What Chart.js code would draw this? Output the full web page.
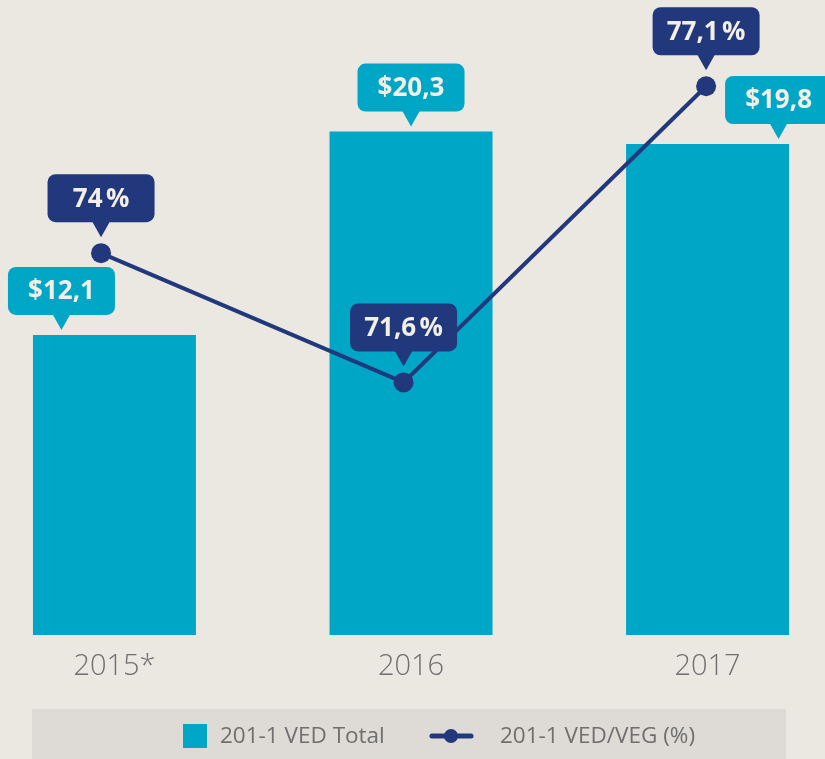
<!DOCTYPE html>
<html>
<head>
<meta charset="utf-8">
<script src="https://cdn.jsdelivr.net/npm/chart.js@4.4.0/dist/chart.umd.min.js"></script>
<style>
  html, body { margin: 0; padding: 0; background: #ebe7e1; }
  #wrap { width: 825px; height: 759px; }
</style>
</head>
<body>
<div id="wrap"><canvas id="chart"></canvas></div>
<script>
const years = ['2015*', '2016', '2017'];
const vedTotal = [12.1, 20.3, 19.8];
const vedRatio = [74, 71.6, 77.1];
const seriesNames = ['201-1 VED Total', '201-1 VED/VEG (%)'];

const cyan = '#00a6c6';
const navy = '#22387c';
const textLight = '#f4efe5';

// the bar callouts sit off-centre so they don't run into the line
const barTagShift = [-53, 0, 71];

let fmt = (v) => Number.isInteger(v) ? String(v) : v.toFixed(1).replace('.', ',');

function bubble(ctx, cx, tipY, text, color) {
  const w = 107, h = 48, r = 8, tail = 15;
  const bottom = tipY - tail, top = bottom - h;
  ctx.fillStyle = color;
  ctx.beginPath();
  ctx.roundRect(cx - w / 2, top, w, h, r);
  ctx.fill();
  ctx.beginPath();
  ctx.moveTo(cx - 9, bottom - 1);
  ctx.lineTo(cx + 9, bottom - 1);
  ctx.lineTo(cx, tipY);
  ctx.closePath();
  ctx.fill();
  ctx.fillStyle = textLight;
  ctx.font = '700 26px "Open Sans"';
  ctx.textAlign = 'center';
  ctx.textBaseline = 'middle';
  ctx.fillText(text, cx, top + h / 2 + 1);
}

const background = {
  id: 'background',
  beforeDraw(chart) {
    const ctx = chart.ctx;
    ctx.save();
    ctx.fillStyle = '#ebe7e1';
    ctx.fillRect(0, 0, chart.width, chart.height);
    ctx.fillStyle = '#dedad5';
    ctx.fillRect(32, 709, 754, 50);
    ctx.restore();
  }
};

const callouts = {
  id: 'callouts',
  afterDatasetsDraw(chart) {
    const ctx = chart.ctx;
    ctx.save();
    chart.getDatasetMeta(1).data.forEach((bar, i) => {
      bubble(ctx, bar.x + barTagShift[i], bar.y - 5, '$' + fmt(vedTotal[i]), cyan);
    });
    chart.getDatasetMeta(0).data.forEach((pt, i) => {
      bubble(ctx, pt.x, pt.y - 16, fmt(vedRatio[i]) + '\u202f%', navy);
    });
    ctx.restore();
  }
};

const legendBand = {
  id: 'legendBand',
  afterDraw(chart) {
    const ctx = chart.ctx;
    const ds = chart.data.datasets;
    ctx.save();
    ctx.font = '400 22.5px "Open Sans"';
    ctx.textBaseline = 'middle';
    ctx.textAlign = 'left';
    // bar entry
    ctx.fillStyle = ds[1].backgroundColor;
    ctx.fillRect(183, 724, 24, 24);
    ctx.fillStyle = '#6f6f6f';
    ctx.fillText(ds[1].label, 220, 737);
    // line entry
    ctx.strokeStyle = ds[0].borderColor;
    ctx.lineWidth = 5;
    ctx.lineCap = 'round';
    ctx.beginPath();
    ctx.moveTo(432, 736);
    ctx.lineTo(471, 736);
    ctx.stroke();
    ctx.fillStyle = ds[0].borderColor;
    ctx.beginPath();
    ctx.arc(451, 736, 7, 0, Math.PI * 2);
    ctx.fill();
    ctx.fillStyle = '#6f6f6f';
    ctx.fillText(ds[0].label, 500, 737);
    ctx.restore();
  }
};

const ctx = document.getElementById('chart').getContext('2d');
const myChart = new Chart(ctx, {
  data: {
    datasets: [
      {
        type: 'line',
        label: seriesNames[1],
        data: vedRatio.map((v, i) => ({ x: i, y: v })),
        xAxisID: 'xl',
        yAxisID: 'yl',
        borderColor: navy,
        backgroundColor: navy,
        borderWidth: 4,
        pointRadius: 10,
        pointHoverRadius: 10,
        pointBorderWidth: 0,
        tension: 0,
        clip: false,
        order: 1
      },
      {
        type: 'bar',
        label: seriesNames[0],
        data: vedTotal.map((v, i) => ({ x: i, y: v })),
        xAxisID: 'x',
        yAxisID: 'y',
        backgroundColor: cyan,
        grouped: false,
        maxBarThickness: 163,
        clip: false,
        order: 2
      }
    ]
  },
  options: {
    responsive: true,
    maintainAspectRatio: false,
    animation: false,
    layout: { autoPadding: false, padding: { left: 0, right: 0, top: 20, bottom: 0 } },
    plugins: {
      legend: { display: false },
      tooltip: { enabled: false }
    },
    scales: {
      x: {
        type: 'linear',
        offset: false,
        min: -0.386,
        max: 2.396,
        grid: { display: false, drawTicks: false, offset: false },
        border: { display: false },
        afterBuildTicks: (s) => { s.ticks = years.map((_, i) => ({ value: i })); },
        ticks: {
          padding: 14,
          color: '#6f6f6f',
          font: { family: 'Open Sans', size: 29, weight: '300' },
          callback: (v) => years[v]
        },
        afterFit: (s) => { s.height = 124; }
      },
      xl: {
        type: 'linear',
        display: false,
        offset: false,
        min: -0.334,
        max: 2.393
      },
      y: {
        display: false,
        min: 0,
        max: 24.8
      },
      yl: {
        display: false,
        min: 66.91,
        max: 78.33
      }
    }
  },
  plugins: [background, callouts, legendBand]
});
</script>
</body>
</html>
